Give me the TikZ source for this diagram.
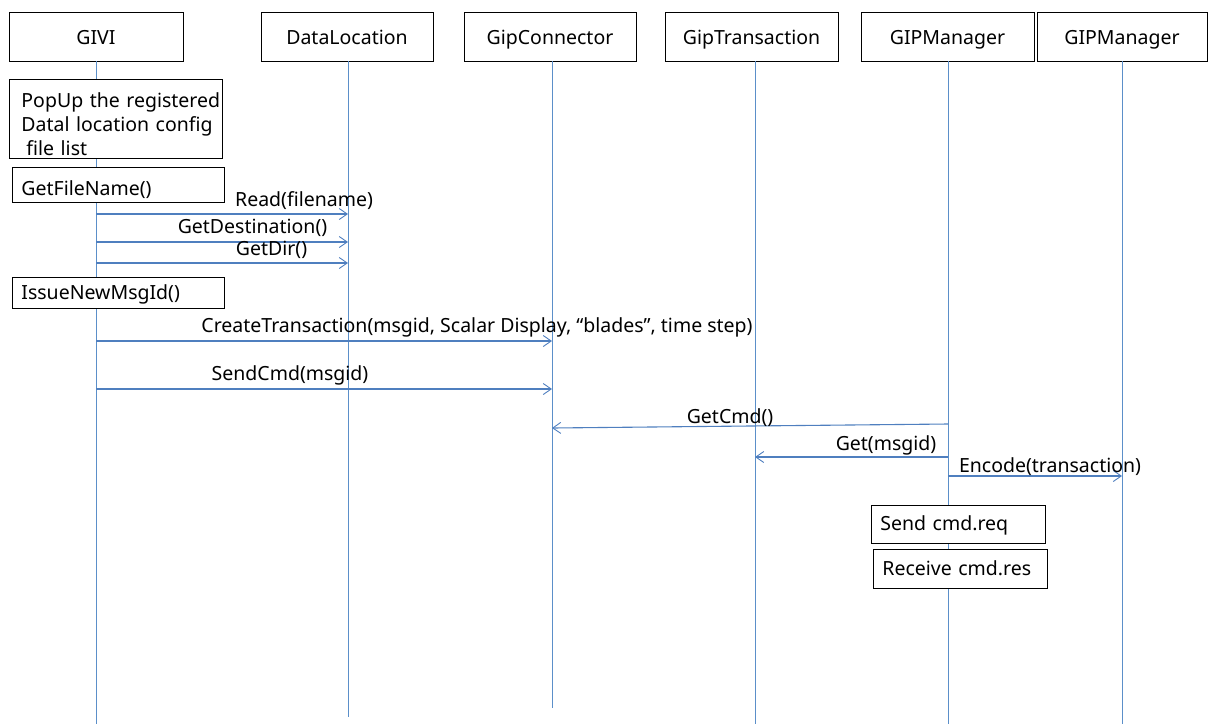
\documentclass[tikz,border=0pt]{standalone}
\usepackage{fontspec}
\setmainfont{Noto Sans}
\usetikzlibrary{arrows.meta}
\definecolor{life}{HTML}{5B8FC9}
\definecolor{msgc}{HTML}{4F7FBF}
\begin{document}
\begin{tikzpicture}[x=1pt,y=-1pt,
  font=\fontsize{19.5}{24}\selectfont,
  actor/.style={draw=black,line width=0.9pt,fill=white,minimum height=49pt,inner sep=0pt,
    text height=18pt,text depth=3pt},
  note/.style={draw=black,line width=0.9pt,fill=white,anchor=north west,align=left,
    inner xsep=9pt,inner ysep=0pt},
  lifeline/.style={draw=life,line width=0.8pt},
  msg/.style={draw=msgc,line width=1.1pt,-{Straight Barb[length=8pt,width=11pt,line width=0.9pt]}},
  lbl/.style={inner sep=0pt,anchor=base}]

\useasboundingbox (0,0) rectangle (1209,724);

% participants
\node[actor,minimum width=174pt] (givi) at (96,36.5) {GIVI};
\node[actor,minimum width=172pt] (dl)   at (347,36.5) {DataLocation};
\node[actor,minimum width=172pt] (gc)   at (550,36.5) {GipConnector};
\node[actor,minimum width=173pt] (gt)   at (751.5,36.5) {GipTransaction};
\node[actor,minimum width=173pt] (gm)   at (947.5,36.5) {GIPManager};
\node[actor,minimum width=170pt] (gm2)  at (1122,36.5) {GIPManager};

% lifelines
\coordinate (givi-end) at (96,724);
\coordinate (dl-end)   at (348,717);
\coordinate (gc-end)   at (552,708);
\coordinate (gt-end)   at (755,724);
\coordinate (gm-end)   at (948,724);
\coordinate (gm2-end)  at (1122,724);
\draw[lifeline] (givi.south) -- (givi-end);
\draw[lifeline] (dl.south -| dl-end) -- (dl-end);
\draw[lifeline] (gc.south -| gc-end) -- (gc-end);
\draw[lifeline] (gt.south -| gt-end) -- (gt-end);
\draw[lifeline] (gm.south -| gm-end) -- (gm-end);
\draw[lifeline] (gm2.south -| gm2-end) -- (gm2-end);

% activity notes on the GIVI lifeline
\node[note,inner xsep=0pt,text width=213pt] (popup) at (9,79)
  {\hspace*{12pt}\rule{0pt}{28pt}PopUp the registered\\
   \hspace*{12pt}Datal location config\\
   \hspace*{17pt}file list\rule[-3pt]{0pt}{3pt}};
\node[note,text width=194pt,text height=28pt,text depth=7pt] (getfile) at (12,167)
  {GetFileName()};
\node[note,text width=194pt,text height=22pt,text depth=9pt] (issue) at (12,277)
  {IssueNewMsgId()};

% activity notes on the GIPManager lifeline
\node[note,text width=156pt,text height=25pt,text depth=13pt] (send) at (871,505)
  {Send cmd.req};
\node[note,text width=156pt,text height=26pt,text depth=13pt] (recv) at (873,549)
  {Receive cmd.res};

% messages
\draw[msg] (givi-end |- 0,214) -- (dl-end |- 0,214);
\node[lbl] (l-read) at (304,206) {Read(filename)};
\draw[msg] (givi-end |- 0,242) -- (dl-end |- 0,242);
\node[lbl] (l-dest) at (252.5,233) {GetDestination()};
\draw[msg] (givi-end |- 0,263) -- (dl-end |- 0,263);
\node[lbl] (l-dir) at (271.5,255) {GetDir()};

\draw[msg] (givi-end |- 0,341) -- (gc-end |- 0,341);
\node[lbl] (l-create) at (477,332) {CreateTransaction(msgid, Scalar Display, “blades”, time step)};
\draw[msg] (givi-end |- 0,389) -- (gc-end |- 0,389);
\node[lbl] (l-send) at (290,380) {SendCmd(msgid)};

\draw[msg] (gm-end |- 0,424) -- (gc-end |- 0,428);
\node[lbl] (l-getcmd) at (730,423) {GetCmd()};
\draw[msg] (gm-end |- 0,457) -- (gt-end |- 0,457);
\node[lbl] (l-get) at (886,450) {Get(msgid)};
\draw[msg] (gm-end |- 0,476) -- (gm2-end |- 0,476);
\node[lbl] (l-enc) at (1050,472) {Encode(transaction)};

\end{tikzpicture}
\end{document}
